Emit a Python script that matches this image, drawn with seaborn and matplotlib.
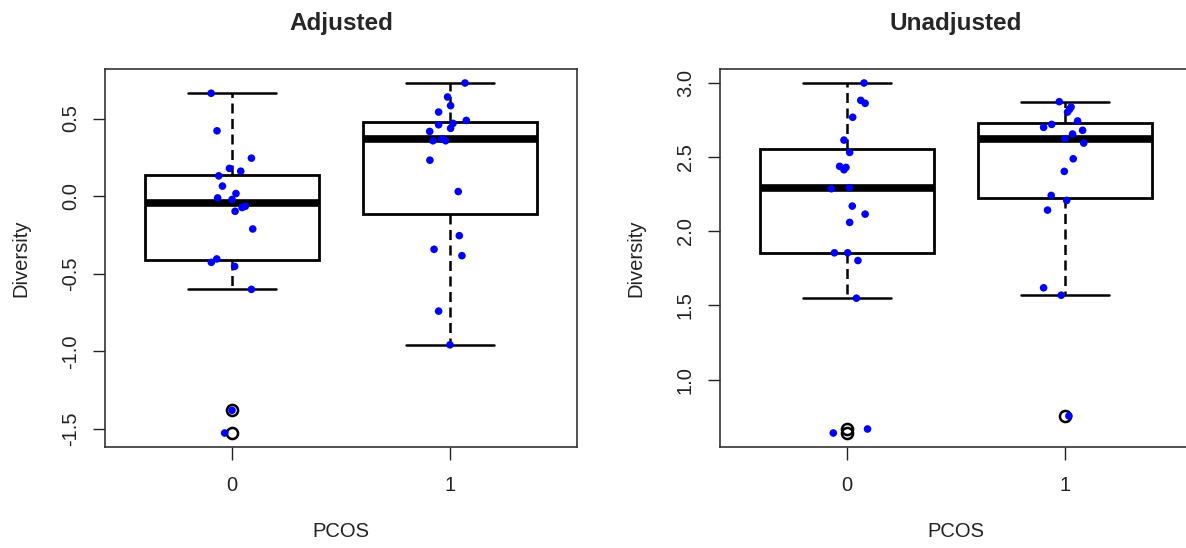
import numpy as np
import pandas as pd
import matplotlib
matplotlib.use("Agg")
import matplotlib.pyplot as plt
import seaborn as sns

# ---------------- data ----------------
groups = ["0", "1"]
titles = ["Adjusted", "Unadjusted"]
x_label = "PCOS"
y_label = "Diversity"

adj_ctrl = [0.663, 0.421, 0.245, 0.179, 0.161, 0.131, 0.065, 0.017, -0.011, -0.021,
            -0.065, -0.073, -0.097, -0.211, -0.404, -0.426, -0.452, -0.600, -1.379, -1.525]
adj_ctrl_jit = [-0.096, -0.069, 0.089, -0.012, 0.040, -0.061, -0.044, 0.018, -0.066, 0.0,
                0.061, 0.046, 0.014, 0.095, -0.070, -0.095, 0.012, 0.089, 0.0, -0.034]
adj_pcos = [0.729, 0.639, 0.583, 0.542, 0.488, 0.469, 0.460, 0.437, 0.417, 0.368,
            0.357, 0.357, 0.232, 0.030, -0.254, -0.342, -0.383, -0.740, -0.957]
adj_pcos_jit = [0.069, -0.011, 0.003, -0.052, 0.075, 0.014, -0.052, 0.003, -0.093, -0.037,
                -0.020, -0.078, -0.092, 0.038, 0.043, -0.073, 0.055, -0.052, 0.0]

unadj_ctrl = [3.000, 2.883, 2.863, 2.769, 2.615, 2.532, 2.438, 2.431, 2.415, 2.294,
              2.287, 2.170, 2.116, 2.060, 1.855, 1.855, 1.803, 1.549, 0.667, 0.640]
unadj_ctrl_jit = [0.078, 0.063, 0.083, 0.026, -0.014, 0.012, -0.034, -0.005, -0.014, 0.011,
                  -0.072, 0.024, 0.083, 0.012, -0.058, 0.003, 0.050, 0.043, 0.094, -0.063]
unadj_pcos = [2.874, 2.838, 2.823, 2.804, 2.744, 2.721, 2.701, 2.681, 2.656, 2.624,
              2.595, 2.489, 2.404, 2.242, 2.208, 2.143, 1.619, 1.569, 0.755]
unadj_pcos_jit = [-0.026, 0.028, 0.021, 0.012, 0.058, -0.061, -0.098, 0.081, 0.035, 0.0,
                  0.086, 0.038, -0.003, -0.063, 0.008, -0.080, -0.098, -0.017, 0.018]

adj_yticks = [-1.5, -1.0, -0.5, 0.0, 0.5]
unadj_yticks = [1.0, 1.5, 2.0, 2.5, 3.0]

# ---------------- style ----------------
sns.set_style("white")
plt.rcParams["font.family"] = ["Liberation Sans", "DejaVu Sans"]

fig = plt.figure(figsize=(11.86, 5.48), dpi=100)
W, H = 1186.0, 548.0
ax_l = fig.add_axes([105 / W, (H - 447) / H, 472 / W, 378 / H])
ax_r = fig.add_axes([720 / W, (H - 447) / H, 472 / W, 378 / H])


def panel(ax, ctrl, ctrl_j, pcos, pcos_j, yticks, title):
    df = pd.DataFrame({
        "PCOS": [groups[0]] * len(ctrl) + [groups[1]] * len(pcos),
        "val": list(ctrl) + list(pcos),
    })
    sns.boxplot(data=df, x="PCOS", y="val", order=groups, ax=ax, width=0.8,
                color="white", linecolor="black", linewidth=2.0, fliersize=8,
                boxprops=dict(facecolor="white", edgecolor="black", linewidth=2.0),
                whiskerprops=dict(linestyle=(0, (4.0, 2.2)), linewidth=1.8, color="black"),
                capprops=dict(linewidth=1.8, color="black"),
                medianprops=dict(linewidth=5.5, color="black", solid_capstyle="butt"),
                flierprops=dict(marker="o", markerfacecolor="none",
                                markeredgecolor="black", markeredgewidth=1.8,
                                markersize=8))
    pts = pd.DataFrame({
        "x": [0 + j for j in ctrl_j] + [1 + j for j in pcos_j],
        "y": list(ctrl) + list(pcos),
    })
    sns.scatterplot(data=pts, x="x", y="y", ax=ax, color="#0000ff", s=30,
                    edgecolor="none", linewidth=0, zorder=6, legend=False)

    allv = np.array(list(ctrl) + list(pcos))
    rng = allv.max() - allv.min()
    ax.set_ylim(allv.min() - 0.04 * rng, allv.max() + 0.04 * rng)
    ax.set_xlim(-0.583, 1.583)
    ax.set_xticks([0, 1])
    ax.set_xticklabels(groups)
    ax.set_yticks(yticks)
    ax.set_yticklabels([f"{t:.1f}" for t in yticks], rotation=90, va="center")
    ax.tick_params(axis="both", direction="out", length=9, width=1.0,
                   colors="#222222", labelsize=14.5, left=True, bottom=True,
                   labelcolor="#222222")
    ax.tick_params(axis="x", pad=12)
    ax.tick_params(axis="y", pad=9)
    for s in ax.spines.values():
        s.set_visible(True)
        s.set_color("#333333")
        s.set_linewidth(1.2)
    ax.set_xlabel(x_label, fontsize=14.5, labelpad=19, color="#222222")
    ax.set_ylabel(y_label, fontsize=14.5, labelpad=22, color="#222222")
    ax.set_title(title, fontsize=17.5, fontweight="bold", pad=28)


panel(ax_l, adj_ctrl, adj_ctrl_jit, adj_pcos, adj_pcos_jit, adj_yticks, titles[0])
panel(ax_r, unadj_ctrl, unadj_ctrl_jit, unadj_pcos, unadj_pcos_jit, unadj_yticks, titles[1])

fig.savefig("out.png", dpi=100)
